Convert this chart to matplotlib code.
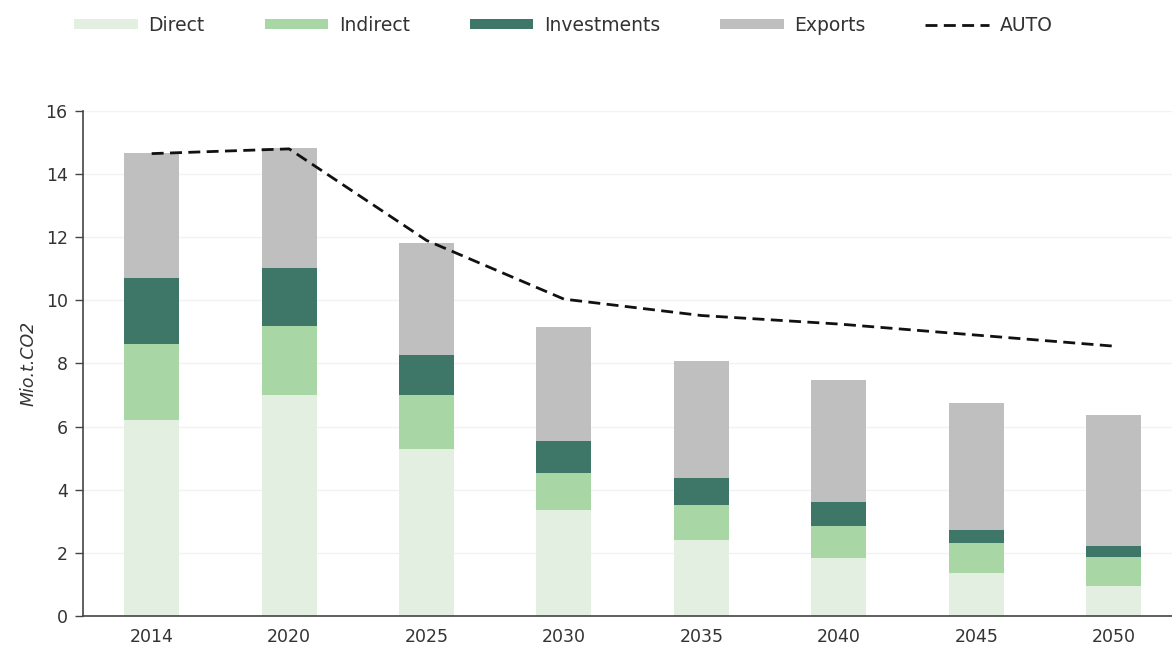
import numpy as np
import matplotlib
matplotlib.use("Agg")
import matplotlib.pyplot as plt
from matplotlib.patches import Patch
from matplotlib.lines import Line2D

plt.rcParams['font.family'] = ['DejaVu Sans']

# data
years = ['2014', '2020', '2025', '2030', '2035', '2040', '2045', '2050']
direct = [6.21, 7.00, 5.29, 3.36, 2.41, 1.84, 1.36, 0.95]
indirect = [2.41, 2.19, 1.71, 1.17, 1.11, 1.01, 0.95, 0.92]
investments = [2.09, 1.84, 1.27, 1.02, 0.85, 0.76, 0.41, 0.35]
exports = [3.96, 3.80, 3.55, 3.61, 3.71, 3.87, 4.03, 4.15]
auto = [14.65, 14.80, 11.90, 10.04, 9.52, 9.25, 8.90, 8.55]

colors = {'Direct': '#e2efe1', 'Indirect': '#a9d6a5',
          'Investments': '#3e7668', 'Exports': '#bfbfbf'}
dash = (0, (4.3, 2.3))

fig = plt.figure(figsize=(11.72, 6.51), dpi=100)
ax = fig.add_axes([0.0708, 0.0538, 0.938, 0.7757])

x = np.arange(len(years))
w = 0.4
bottom = np.zeros(len(years))
for name, vals in [('Direct', direct), ('Indirect', indirect),
                   ('Investments', investments), ('Exports', exports)]:
    ax.bar(x, vals, w, bottom=bottom, color=colors[name], zorder=2)
    bottom += np.array(vals)

ax.plot(x, auto, color='#111111', linestyle=dash, linewidth=2, zorder=3)

ax.set_ylim(0, 16)
ax.set_yticks(range(0, 17, 2))
ax.set_xlim(-0.5, len(years) - 0.5)
ax.set_xticks(x)
ax.set_xticklabels(years)
ax.tick_params(axis='x', length=0, pad=9, labelsize=12.5, colors='#333333')
ax.tick_params(axis='y', length=6, width=1, color='#444444', labelsize=12.5,
               colors='#333333', pad=5)
ax.yaxis.grid(True, color='#f2f2f2', linewidth=1, zorder=0)
ax.set_axisbelow(True)
for s in ['top', 'right']:
    ax.spines[s].set_visible(False)
for s in ['left', 'bottom']:
    ax.spines[s].set_color('#444444')
    ax.spines[s].set_linewidth(1.2)
ax.set_ylabel('Mio.t.CO2', fontsize=12.5, style='italic', color='#333333', labelpad=6)

handles = [Patch(facecolor=colors[k], edgecolor='none') for k in colors]
handles.append(Line2D([0], [0], color='#111111', linestyle=dash, linewidth=2))
labels = list(colors.keys()) + ['AUTO']
fig.legend(handles, labels, loc='center left', bbox_to_anchor=(0.049, 0.961),
           ncol=5, frameon=False, fontsize=13.5, handlelength=3.4,
           handleheight=0.45, columnspacing=3.2, handletextpad=0.55,
           labelcolor='#333333')

fig.savefig('out.png', dpi=100)
